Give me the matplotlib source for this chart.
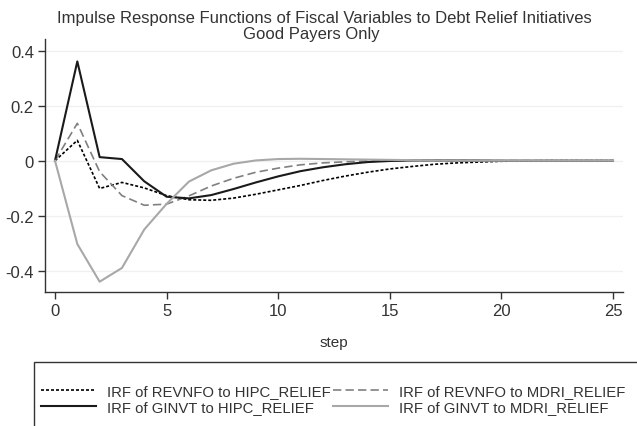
import numpy as np
import matplotlib
matplotlib.use("Agg")
import matplotlib.pyplot as plt
from matplotlib.patches import Rectangle

plt.rcParams['font.family'] = ['Liberation Sans', 'DejaVu Sans']

########################
#   DATA               #
########################
steps = np.arange(0, 26)

revnfo_hipc = [0, 0.074, -0.101, -0.079, -0.099, -0.127, -0.142, -0.144, -0.136, -0.122,
               -0.106, -0.090, -0.072, -0.056, -0.042, -0.030, -0.021, -0.013, -0.008, -0.005,
               -0.002, -0.001, 0, 0, 0, 0]
revnfo_mdri = [0, 0.136, -0.040, -0.127, -0.162, -0.158, -0.128, -0.092, -0.064, -0.042,
               -0.027, -0.015, -0.008, -0.004, -0.001, 0, 0.001, 0.001, 0.0005, 0,
               0, 0, 0, 0, 0, 0]
ginvt_hipc = [0, 0.361, 0.013, 0.006, -0.075, -0.131, -0.137, -0.125, -0.103, -0.079,
              -0.057, -0.038, -0.024, -0.013, -0.005, -0.001, 0.001, 0.001, 0.001, 0.0005,
              0, 0, 0, 0, 0, 0]
ginvt_mdri = [0, -0.303, -0.440, -0.390, -0.250, -0.157, -0.076, -0.035, -0.011, 0.001,
              0.006, 0.007, 0.006, 0.005, 0.004, 0.003, 0.002, 0.001, 0.001, 0,
              0, 0, 0, 0, 0, 0]

labels = ["IRF of REVNFO to HIPC_RELIEF", "IRF of REVNFO to MDRI_RELIEF",
          "IRF of GINVT to HIPC_RELIEF", "IRF of GINVT to MDRI_RELIEF"]

yticks = [-0.4, -0.2, 0, 0.2, 0.4]
ytick_labels = ["-0.4", "-0.2", "0", "0.2", "0.4"]
xticks = [0, 5, 10, 15, 20, 25]

W, H = 637, 427
fig = plt.figure(figsize=(W / 100, H / 100), dpi=100)
ax = fig.add_axes([45 / W, 1 - 293 / H, (623 - 45) / W, (293 - 40) / H])

l1, = ax.plot(steps, revnfo_hipc, color='black', lw=1.2, dashes=(1.8, 1.2))
l2, = ax.plot(steps, revnfo_mdri, color='#808080', lw=1.2, dashes=(5, 2.5))
l3, = ax.plot(steps, ginvt_hipc, color='#1a1a1a', lw=1.5)
l4, = ax.plot(steps, ginvt_mdri, color='#a8a8a8', lw=1.5)

ax.set_xlim(-10 / 22.32, 25 + 10 / 22.32)
ax.set_ylim(-(293 - 161.7) / 275, (161.7 - 40) / 275)
ax.set_yticks(yticks)
ax.set_yticklabels(ytick_labels)
ax.set_xticks(xticks)
for y in yticks:
    ax.axhline(y, color='#f0f0f0', lw=1.0, zorder=0)

for s in ['top', 'right']:
    ax.spines[s].set_visible(False)
for s in ['left', 'bottom']:
    ax.spines[s].set_color('#333333')
    ax.spines[s].set_linewidth(1.0)
ax.tick_params(axis='both', direction='out', length=5, width=1.0, color='#333333',
               labelsize=12, labelcolor='#333333', pad=3)

ax.set_xlabel("step", fontsize=11, color='#333333', labelpad=12)

fig.text(324 / W, 1 - 18 / H, "Impulse Response Functions of Fiscal Variables to Debt Relief Initiatives",
         ha='center', va='center', fontsize=12, color='#333333')
fig.text(311 / W, 1 - 34 / H, "Good Payers Only",
         ha='center', va='center', fontsize=12, color='#333333')

# legend box, runs off the edge like the original
fig.patches.append(Rectangle((34 / W, -0.2), 1.0, (1 - 363 / H) + 0.2, transform=fig.transFigure,
                             fill=False, edgecolor='#333333', lw=1.0))
# matplotlib fills legend columns first, so order handles to read row by row
leg = fig.legend([l1, l3, l2, l4], [labels[0], labels[2], labels[1], labels[3]], ncol=2,
                 loc='upper left', bbox_to_anchor=(41 / W, 1 - 385 / H), frameon=False,
                 fontsize=10.7, handlelength=3.7, handletextpad=0.72, columnspacing=0.2,
                 labelspacing=0.15, borderpad=0, borderaxespad=0)
for t in leg.get_texts():
    t.set_color('#333333')

fig.savefig("out.png", dpi=100)
